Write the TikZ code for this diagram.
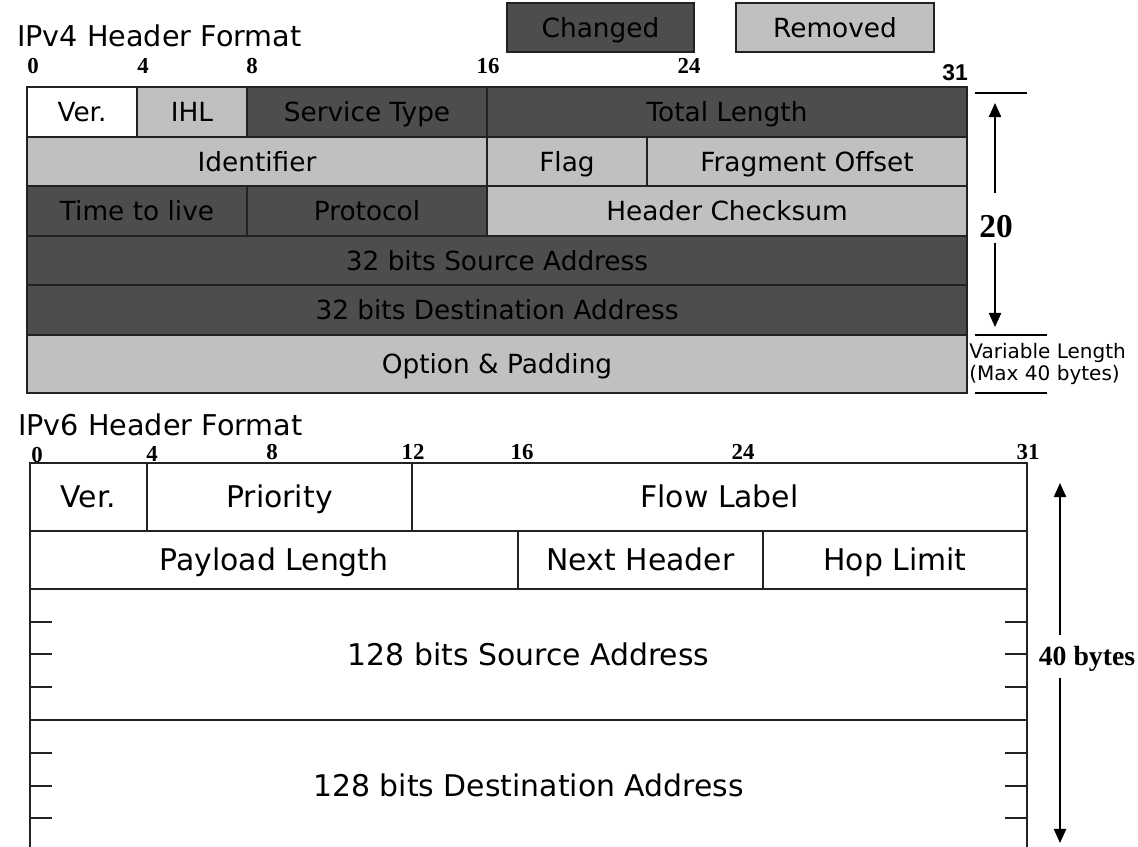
\documentclass[tikz,border=0pt]{standalone}
\usepackage{fontspec}
\setmainfont{DejaVu Sans}
\newfontfamily\numserif{Liberation Serif}
\newfontfamily\numsans{Liberation Sans}
\usetikzlibrary{arrows.meta}

\definecolor{chgray}{RGB}{77,77,77}
\definecolor{remgray}{RGB}{192,192,192}
\definecolor{edgegray}{RGB}{34,34,34}

\tikzset{
  cell/.style={draw=edgegray, line width=1.1pt},
  vfour/.style={font=\fontsize{15}{18}\selectfont, text height=10.9pt, text depth=0pt},
  vsix/.style={font=\fontsize{17}{20}\selectfont, text height=12.4pt, text depth=0pt},
  bitnum/.style={font=\numserif\bfseries\fontsize{13}{15}\selectfont, text height=8.8pt, text depth=0pt},
  dimline/.style={line width=0.8pt, -{Triangle[width=7pt,length=8pt]}},
  bar/.style={line width=0.8pt},
  tickmark/.style={line width=1.1pt, edgegray},
}

\begin{document}
\begin{tikzpicture}[x=0.02cm, y=-0.02cm]
\useasboundingbox (0,0) rectangle (1138,846);
\clip (0,0) rectangle (1138,846);

\node[anchor=base west, font=\fontsize{16.3}{18}\selectfont] (title4) at (11,46) {IPv4 Header Format};
\draw[cell, fill=chgray] (507,3) rectangle node[vfour] (changed) {Changed} (694,52);
\draw[cell, fill=remgray] (736,3) rectangle node[vfour] (removed) {Removed} (934,52);

\node[bitnum] (a0) at (33,66) {0};
\node[bitnum] (a4) at (143,66) {4};
\node[bitnum] (a8) at (252,66) {8};
\node[bitnum] (a16) at (488,66) {16};
\node[bitnum] (a24) at (689,66) {24};
\node[font=\numsans\bfseries\fontsize{13}{15}\selectfont] (a31) at (955,73) {31};

\draw[cell, fill=white] (27,87) rectangle node[vfour] (ver4) {Ver.} (137,137);
\draw[cell, fill=remgray] (137,87) rectangle node[vfour] (ihl) {IHL} (247,137);
\draw[cell, fill=chgray] (247,87) rectangle node[vfour] (tos) {Service Type} (487,137);
\draw[cell, fill=chgray] (487,87) rectangle node[vfour] (tlen) {Total Length} (967,137);
\draw[cell, fill=remgray] (27,137) rectangle node[vfour] (ident) {Identifier} (487,186);
\draw[cell, fill=remgray] (487,137) rectangle node[vfour] (flag) {Flag} (647,186);
\draw[cell, fill=remgray] (647,137) rectangle node[vfour] (fragoff) {Fragment Offset} (967,186);
\draw[cell, fill=chgray] (27,186) rectangle node[vfour] (ttl) {Time to live} (247,236);
\draw[cell, fill=chgray] (247,186) rectangle node[vfour] (proto) {Protocol} (487,236);
\draw[cell, fill=remgray] (487,186) rectangle node[vfour] (hcsum) {Header Checksum} (967,236);
\draw[cell, fill=chgray] (27,236) rectangle node[vfour] (src4) {32 bits Source Address} (967,285);
\draw[cell, fill=chgray] (27,285) rectangle node[vfour] (dst4) {32 bits Destination Address} (967,335);
\draw[cell, fill=remgray] (27,335) rectangle node[vfour] (opt) {Option \& Padding} (967,393);

\draw[bar] (975,93) -- (1027,93);
\draw[bar] (975,335) -- (1047,335);
\draw[bar] (975,393) -- (1047,393);
\node[font=\numserif\bfseries\fontsize{19}{22}\selectfont] (len20) at (996,227) {20};
\coordinate (up20) at (995,193);
\coordinate (top20) at (995,103);
\coordinate (low20) at (995,243);
\coordinate (bot20) at (995,327);
\draw[dimline] (up20) -- (top20);
\draw[dimline] (low20) -- (bot20);
\node[anchor=west, align=left, inner sep=0pt, font=\fontsize{11.4}{13}\selectfont] (varlen) at (969,364) {Variable Length\\(Max 40 bytes)};

\node[anchor=base west, font=\fontsize{16.3}{18}\selectfont] (title6) at (12,435) {IPv6 Header Format};
\node[bitnum] (b0) at (37,455) {0};
\node[bitnum] (b4) at (152,454) {4};
\node[bitnum] (b8) at (272,452) {8};
\node[bitnum] (b12) at (413,452) {12};
\node[bitnum] (b16) at (522,452) {16};
\node[bitnum] (b24) at (743,452) {24};
\node[bitnum] (b31) at (1028,452) {31};

\draw[cell, fill=white] (30,463) rectangle node[vsix] (ver6) {Ver.} (147,531);
\draw[cell, fill=white] (147,463) rectangle node[vsix] (prio) {Priority} (412,531);
\draw[cell, fill=white] (412,463) rectangle node[vsix] (flow) {Flow Label} (1027,531);
\draw[cell, fill=white] (30,531) rectangle node[vsix] (plen) {Payload Length} (518,589);
\draw[cell, fill=white] (518,531) rectangle node[vsix] (nxthdr) {Next Header} (763,589);
\draw[cell, fill=white] (763,531) rectangle node[vsix] (hoplim) {Hop Limit} (1027,589);
\draw[cell, fill=white] (30,589) rectangle node[vsix] (src6) {128 bits Source Address} (1027,720);
\draw[cell, fill=white] (30,720) rectangle node[vsix] (dst6) {128 bits Destination Address} (1027,851);
\foreach \y in {622,654,687,753,786,818} {
  \draw[tickmark] (30,\y) -- (52,\y);
  \draw[tickmark] (1005,\y) -- (1027,\y);
}

\node[font=\numserif\bfseries\fontsize{15.8}{18}\selectfont] (len40) at (1087,659) {40 bytes};
\coordinate (up40) at (1060,635);
\coordinate (top40) at (1060,483);
\coordinate (low40) at (1060,678);
\coordinate (bot40) at (1060,843);
\draw[dimline] (up40) -- (top40);
\draw[dimline] (low40) -- (bot40);
\end{tikzpicture}
\end{document}
